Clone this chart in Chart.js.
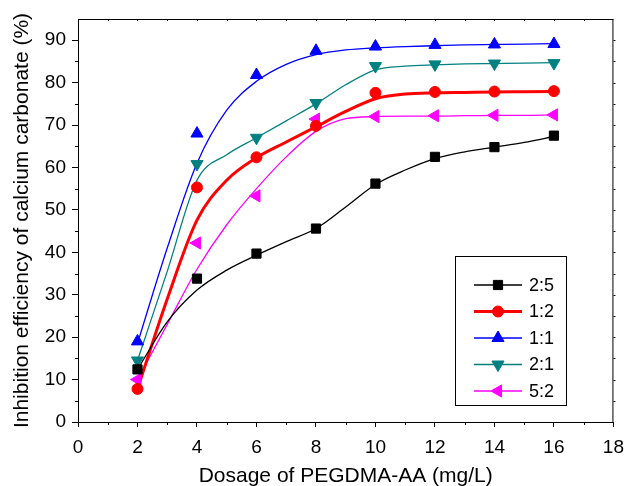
<!DOCTYPE html>
<html>
<head>
<meta charset="utf-8">
<script src="https://cdn.jsdelivr.net/npm/chart.js@4/dist/chart.umd.min.js"></script>
<style>
  html, body { margin: 0; padding: 0; background: #fff; }
</style>
</head>
<body>
<canvas id="inhibitionChart" width="633" height="486"></canvas>
<script>
// Measured points
const dosage = [2, 4, 6, 8, 10, 12, 14, 16];
const ratios = ["2:5", "1:2", "1:1", "2:1", "5:2"];
const eff25 = [12.4, 33.8, 39.7, 45.6, 56.2, 62.5, 64.8, 67.5];
const eff12 = [7.8, 55.3, 62.4, 69.8, 77.6, 77.8, 77.9, 78.0];
const eff11 = [19.0, 68.0, 81.8, 87.5, 88.5, 88.9, 89.0, 89.1];
const eff21 = [14.5, 60.8, 67.0, 75.2, 83.9, 84.3, 84.5, 84.6];
const eff52 = [10.0, 42.2, 53.3, 71.4, 72.0, 72.2, 72.3, 72.4];

// Fitted curves at every 1 mg/L
const fitDosage = [2, 3, 4, 5, 6, 7, 8, 9, 10, 11, 12, 13, 14, 15, 16];
const fit25 = [12.4, 23.6, 31.1, 35.8, 39.3, 42.5, 45.6, 50.7, 56.0, 59.4, 62.1, 63.7, 64.8, 65.9, 67.3];
const fit12 = [7.8, 29.0, 47.6, 57.0, 62.3, 66.0, 69.6, 73.2, 76.2, 77.3, 77.6, 77.7, 77.8, 77.85, 77.9];
const fit11 = [18.5, 41.0, 61.0, 73.5, 80.3, 84.3, 86.6, 87.7, 88.2, 88.5, 88.7, 88.9, 89.0, 89.1, 89.2];
const fit21 = [14.5, 35.5, 57.0, 63.0, 67.0, 71.0, 75.0, 79.5, 83.0, 83.9, 84.2, 84.4, 84.5, 84.6, 84.7];
const fit52 = [10.0, 23.0, 36.0, 46.5, 55.0, 62.5, 68.5, 71.5, 72.0, 72.1, 72.1, 72.2, 72.3, 72.3, 72.4];

// Axis ticks
const xTicks = [0, 2, 4, 6, 8, 10, 12, 14, 16, 18];
const yTicks = [0, 10, 20, 30, 40, 50, 60, 70, 80, 90];

const points = [eff25, eff12, eff11, eff21, eff52];
const fits = [fit25, fit12, fit11, fit21, fit52];

const styles = [
  { color: "#000000", pointStyle: "rect", rotation: 0, radius: 6.5, lineWidth: 1.3 },
  { color: "#ff0000", pointStyle: "circle", rotation: 0, radius: 5.5, lineWidth: 3 },
  { color: "#0000ff", pointStyle: "triangle", rotation: 0, radius: 7, lineWidth: 1.3 },
  { color: "#008080", pointStyle: "triangle", rotation: 180, radius: 7, lineWidth: 1.3 },
  { color: "#ff00ff", pointStyle: "triangle", rotation: 270, radius: 7, lineWidth: 1.3 },
];

const FONT = "'Liberation Sans', Arial, sans-serif";
Chart.defaults.font.family = FONT;
Chart.defaults.color = "#000";

const datasets = [];
ratios.forEach((name, i) => {
  const s = styles[i];
  datasets.push({
    label: name,
    data: dosage.map((d, j) => ({ x: d, y: points[i][j] })),
    showLine: false,
    backgroundColor: s.color,
    borderColor: s.color,
    borderWidth: 1,
    pointStyle: s.pointStyle,
    rotation: s.rotation,
    pointRadius: s.radius,
    order: 0,
  });
  datasets.push({
    label: name + " fit",
    data: fitDosage.map((d, j) => ({ x: d, y: fits[i][j] })),
    showLine: true,
    borderColor: s.color,
    borderWidth: s.lineWidth,
    pointRadius: 0,
    cubicInterpolationMode: "monotone",
    fill: false,
    order: 1,
  });
});

// box round the plot plus the small minor ticks
const framePlugin = {
  id: "frame",
  afterDraw(chart) {
    const { ctx, chartArea: a, scales } = chart;
    const x = scales.x, y = scales.y;
    ctx.save();
    ctx.strokeStyle = "#000";
    ctx.lineWidth = 1;
    ctx.beginPath();
    ctx.moveTo(a.left, a.top + 0.5);
    ctx.lineTo(a.right, a.top + 0.5);
    ctx.moveTo(a.right - 0.5, a.top);
    ctx.lineTo(a.right - 0.5, a.bottom);
    for (let v = 1; v < 18; v++) {
      const px = Math.round(x.getPixelForValue(v)) + 0.5;
      ctx.moveTo(px, a.top);
      ctx.lineTo(px, a.top + 2);
      if (v % 2) {
        ctx.moveTo(px, a.bottom);
        ctx.lineTo(px, a.bottom + 3);
      }
    }
    for (let v = 5; v < 95; v += 5) {
      const py = Math.round(y.getPixelForValue(v)) + 0.5;
      ctx.moveTo(a.right, py);
      ctx.lineTo(a.right + 2, py);
      if (v % 10) {
        ctx.moveTo(a.left - 3, py);
        ctx.lineTo(a.left, py);
      }
    }
    ctx.stroke();
    ctx.restore();
  },
};

const legendPlugin = {
  id: "boxLegend",
  afterDraw(chart) {
    const ctx = chart.ctx;
    ctx.save();
    ctx.fillStyle = "#fff";
    ctx.fillRect(456, 256, 110, 149);
    ctx.strokeStyle = "#000";
    ctx.lineWidth = 1;
    ctx.strokeRect(455.5, 256.5, 111, 149);
    const rows = [285, 311.5, 338, 364.5, 391];
    ratios.forEach((name, i) => {
      const s = styles[i];
      const yy = rows[i];
      ctx.strokeStyle = s.color;
      ctx.lineWidth = s.lineWidth;
      ctx.beginPath();
      ctx.moveTo(474, yy);
      ctx.lineTo(522, yy);
      ctx.stroke();
      ctx.fillStyle = s.color;
      ctx.lineWidth = 1;
      Chart.helpers.drawPoint(ctx, {
        pointStyle: s.pointStyle, rotation: s.rotation, radius: s.radius, borderWidth: 1,
      }, 498, yy);
      ctx.fillStyle = "#000";
      ctx.font = "18px " + FONT;
      ctx.textAlign = "left";
      ctx.textBaseline = "middle";
      ctx.fillText(name, 529, yy + 1);
    });
    ctx.restore();
  },
};

new Chart(document.getElementById("inhibitionChart").getContext("2d"), {
  type: "scatter",
  data: { datasets: datasets },
  options: {
    responsive: false,
    animation: false,
    layout: { padding: { top: 19, right: 14, left: 0, bottom: 0 } },
    plugins: {
      legend: { display: false },
      tooltip: { enabled: false },
    },
    scales: {
      x: {
        type: "linear",
        min: 0,
        max: 18,
        afterBuildTicks: (s) => { s.ticks = xTicks.map((v) => ({ value: v })); },
        afterFit: (s) => { s.height = 64; },
        grid: { drawOnChartArea: false, tickLength: 5, color: "#000" },
        border: { color: "#000", width: 1 },
        ticks: { color: "#000", font: { size: 19 }, padding: 9, maxRotation: 0 },
        title: {
          display: true,
          text: "Dosage of PEGDMA-AA (mg/L)",
          color: "#000",
          font: { size: 21, lineHeight: 1 },
          padding: { top: 0, bottom: -1 },
        },
      },
      y: {
        type: "linear",
        min: 0,
        max: 95,
        afterBuildTicks: (s) => { s.ticks = yTicks.map((v) => ({ value: v })); },
        afterFit: (s) => { s.width = 78; },
        grid: { drawOnChartArea: false, tickLength: 6, color: "#000" },
        border: { color: "#000", width: 1 },
        ticks: { color: "#000", font: { size: 19 }, padding: 6 },
        title: {
          display: true,
          text: "Inhibition efficiency of calcium carbonate (%)",
          color: "#000",
          font: { size: 21, lineHeight: 1 },
          padding: { top: 12, bottom: 0 },
        },
      },
    },
  },
  plugins: [framePlugin, legendPlugin],
});
</script>
</body>
</html>
